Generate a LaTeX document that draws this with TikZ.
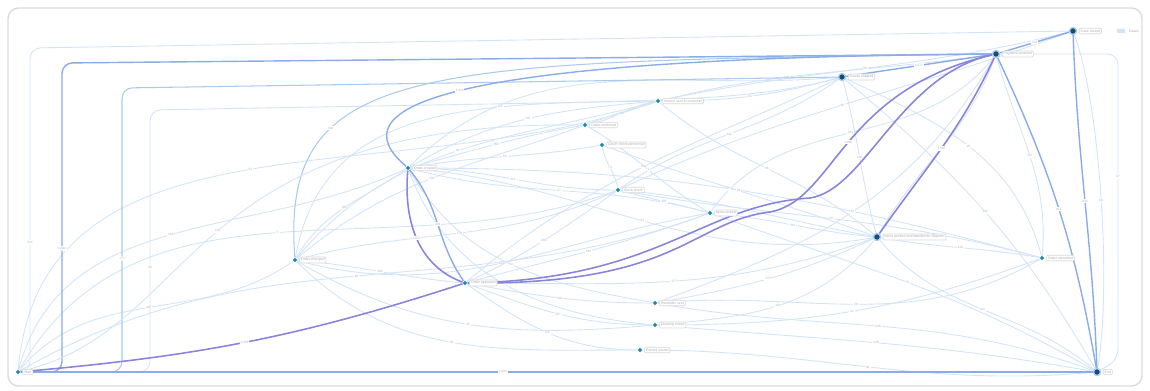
\documentclass[tikz,border=0pt]{standalone}
\usepackage{fontspec}
\setmainfont{Liberation Sans}
\usepackage{tikz}
\usetikzlibrary{positioning, arrows.meta, backgrounds}
\definecolor{flowlight}{RGB}{210,228,247}
\definecolor{flowmid}{RGB}{170,202,240}
\definecolor{flowmain}{RGB}{138,172,234}
\definecolor{flowheavy}{RGB}{138,132,218}
\definecolor{dotdark}{RGB}{22,78,108}
\definecolor{dotteal}{RGB}{30,135,170}
\definecolor{framegray}{RGB}{216,219,225}
\tikzset{
  act/.style={rectangle, draw=gray!30, fill=white, rounded corners=0.6pt,
    inner sep=0.8pt, font=\fontsize{2}{2.4}\selectfont, text=gray!65},
  lbl/.style={fill=white, font=\fontsize{1.8}{2}\selectfont, text=gray!60,
    inner sep=0.5pt},
  light/.style={draw=flowlight, line width=0.5pt},
  mid/.style={draw=flowmid, line width=0.6pt},
  main/.style={draw=flowmain, line width=0.8pt},
  heavy/.style={draw=flowheavy, line width=0.9pt}
}

\begin{document}
\begin{tikzpicture}[x=0.02cm, y=-0.02cm, node distance=1pt,
  dot/.style={circle, fill=dotteal, draw=white, line width=0.3pt, inner sep=0pt, minimum size=0.09cm},
  bigdot/.style={circle, fill=dotdark, draw=flowmid, line width=0.8pt, inner sep=0pt, minimum size=0.14cm},
  keybox/.style={rectangle, fill=flowlight, inner sep=0pt, minimum width=0.16cm, minimum height=0.08cm}]

  \useasboundingbox (0,0) rectangle (1150,391);

  % Activities
  \node[dot] (start) at (18,372) {};
  \node[act, right=of start] (start-t) {Start};
  \node[bigdot] (close) at (1073,31) {};
  \node[act, right=of close] (close-t) {Case closed};
  \node[bigdot] (hub) at (996,54) {};
  \node[act, right=of hub] (hub-t) {Payment received};
  \node[bigdot] (ship) at (842,77) {};
  \node[act, right=of ship] (ship-t) {Goods shipped};
  \node[dot] (inv) at (658,101) {};
  \node[act, right=of inv] (inv-t) {Invoice sent to customer};
  \node[dot] (conf) at (585,125) {};
  \node[act, right=of conf] (conf-t) {Order confirmed};
  \node[dot] (credit) at (602,145) {};
  \node[act, right=of credit] (credit-t) {Credit check performed};
  \node[dot] (create) at (408,168) {};
  \node[act, right=of create] (create-t) {Order created};
  \node[dot] (check) at (618,190) {};
  \node[act, right=of check] (check-t) {Stock check};
  \node[dot] (pick) at (710,213) {};
  \node[act, right=of pick] (pick-t) {Items picked};
  \node[bigdot] (pack) at (877,237) {};
  \node[act, right=of pack] (pack-t) {Items packed and labelled for dispatch};
  \node[dot] (cancel) at (1042,258) {};
  \node[act, right=of cancel] (cancel-t) {Order cancelled};
  \node[dot] (change) at (295,260) {};
  \node[act, right=of change] (change-t) {Order changed};
  \node[dot] (approve) at (465,283) {};
  \node[act, right=of approve] (approve-t) {Order approved};
  \node[dot] (remind) at (655,303) {};
  \node[act, right=of remind] (remind-t) {Reminder sent};
  \node[dot] (dun) at (655,325) {};
  \node[act, right=of dun] (dun-t) {Dunning notice};
  \node[dot] (refund) at (640,350) {};
  \node[act, right=of refund] (refund-t) {Refund issued};
  \node[bigdot] (end) at (1097,372) {};
  \node[act, right=of end] (end-t) {End};

  % Legend
  \node[keybox] (key) at (1121,31) {};
  \node[act, draw=none, right=of key] (key-t) {Cases};

  \begin{scope}[on background layer]
    \draw[framegray, line width=0.8pt, rounded corners=6pt] (8,8) rectangle (1142,386);

    % Light flows
    \foreach \a/\b/\o/\i/\v in {
      create/check/0/180/412, create/conf/15/190/268, create/inv/30/185/131,
      create/pick/-15/165/97, create/ship/45/185/84, change/create/60/215/356,
      change/approve/-5/175/289, change/check/15/205/176, change/pick/-15/190/143,
      change/refund/-45/180/61, approve/remind/-10/180/318, approve/dun/-20/180/207,
      approve/refund/-35/180/115, approve/check/25/215/240, approve/pick/15/200/188,
      remind/pack/10/205/274, dun/pack/5/230/163, refund/end/0/185/92,
      dun/end/-5/170/138, remind/end/-10/160/226, pick/pack/-5/175/391,
      check/pick/-15/165/305, check/ship/35/215/122, inv/ship/0/195/147,
      conf/inv/10/190/219, conf/hub/20/188/108, credit/check/-80/100/73,
      create/credit/10/190/55, ship/pack/-75/105/236, ship/cancel/-25/105/49,
      pack/cancel/-10/170/118, hub/cancel/-75/85/167, pick/hub/55/232/201,
      check/close/25/200/66, inv/close/12/194/58, start/create/75/205/183,
      start/change/50/215/245, start/check/60/200/77, change/ship/80/195/112,
      pack/end/-50/140/154, dun/cancel/0/200/41, hub/pack/-110/60/95,
      create/pack/-5/190/81, create/cancel/0/165/37, change/conf/40/200/104,
      change/inv/50/195/93, approve/ship/40/205/139, approve/pack/0/200/177,
      check/pack/-5/170/126, check/cancel/-10/165/52, credit/pack/-20/160/64,
      conf/pick/-30/150/71, inv/pack/-40/140/86, change/dun/-30/185/45,
      create/remind/-60/170/59, create/dun/-70/175/33, start/pick/30/200/48,
      remind/cancel/5/210/29, ship/end/-40/120/102, pick/end/-20/150/76,
      hub/remind/-120/20/38, start/inv/85/200/54}
      \draw[light] (\a) to[out=\o, in=\i] node[lbl]{\v} (\b);

    % Outer routes
    \draw[light, rounded corners=6pt] (start) -| node[lbl, pos=.7]{214} (30,48) -- (close);
    \draw[main, rounded corners=6pt] (start) -| node[lbl, pos=.7]{1,022} (62,63) -- (hub);
    \draw[mid, rounded corners=6pt] (start) -| node[lbl, pos=.7]{172} (122,88) -- (ship);
    \draw[light, rounded corners=6pt] (start) -| node[lbl, pos=.7]{96} (150,110) -- (inv);
    \draw[mid] (change) .. controls (280,60) and (420,62) .. node[lbl, pos=.3]{318} (hub);
    \draw[light] (start) .. controls (200,330) and (180,120) .. node[lbl]{133} (conf);
    \draw[light, rounded corners=6pt] (hub) -| node[lbl, pos=.7]{87} (1118,360) -- (end);
    \draw[light] (close) to[out=-70, in=80, looseness=.6] node[lbl]{69} (end);

    % Main flows
    \draw[main] (start) -- node[lbl, pos=.45]{1,204} (end);
    \draw[main] (close) to[out=-88, in=92] node[lbl]{640} (end);
    \draw[main] (hub) to[out=-65, in=100] node[lbl]{911} (end);
    \draw[main] (ship) -- node[lbl]{1,377} (hub);
    \draw[main] (hub) -- node[lbl]{702} (close);
    \draw[main] (create) to[out=-50, in=125] node[lbl]{436} (approve);
    \draw[main] (create) .. controls (340,110) and (420,58) .. node[lbl, pos=.5]{1,118} (hub);

    % Heavy flows
    \draw[heavy] (start) to[out=5, in=198] node[lbl]{2,318} (approve);
    \draw[heavy] (approve) .. controls (680,285) and (690,222) .. (770,212)
      .. controls (835,200) and (840,90) .. node[lbl, pos=.5]{1,865} (hub);
    \draw[heavy] (approve) .. controls (660,280) and (700,205) .. (810,198)
      .. controls (865,190) and (900,75) .. (hub);
    \draw[heavy] (pack) to[out=55, in=245] node[lbl]{1,540} (hub);
    \draw[heavy] (create) to[out=-95, in=160] node[lbl]{1,972} (approve);
  \end{scope}

\end{tikzpicture}
\end{document}
